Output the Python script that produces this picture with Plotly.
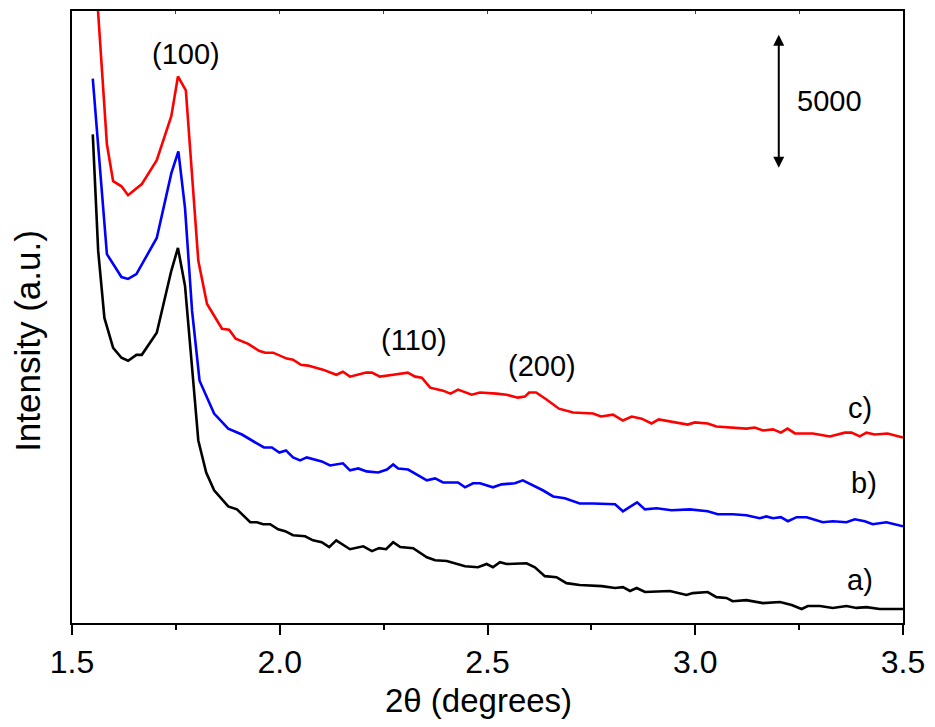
import plotly.graph_objects as go

# ---- data (2theta in degrees, intensity in counts) ----
a_x = [1.550,1.563,1.578,1.599,1.619,1.635,1.655,1.668,1.704,1.739,1.755,1.772,1.789,1.804,1.823,1.842,1.876,1.897,1.929,1.945,1.960,1.977,1.996,2.013,2.032,2.061,2.080,2.101,2.119,2.136,2.169,2.201,2.222,2.239,2.256,2.273,2.290,2.321,2.354,2.374,2.402,2.446,2.477,2.498,2.513,2.530,2.546,2.594,2.614,2.638,2.666,2.690,2.722,2.775,2.807,2.826,2.843,2.859,2.879,2.939,2.979,2.994,3.030,3.051,3.075,3.090,3.123,3.163,3.204,3.232,3.256,3.271,3.300,3.331,3.364,3.388,3.412,3.444,3.500]
a_y = [18150,13820,11330,10220,9850,9740,9960,9960,10780,13080,13930,12520,9480,6780,5590,4930,4330,4220,3740,3740,3670,3670,3480,3410,3260,3220,3070,3000,2820,3070,2740,2850,2670,2780,2740,3000,2820,2780,2440,2330,2300,2110,2070,2190,2070,2260,2190,2220,2070,1740,1700,1480,1410,1370,1300,1330,1190,1300,1150,1190,1040,1110,1150,960,930,810,850,740,780,670,520,630,630,560,630,560,590,520,520]

b_x = [1.550,1.584,1.619,1.635,1.655,1.704,1.739,1.756,1.772,1.789,1.807,1.842,1.876,1.909,1.945,1.962,1.981,1.999,2.015,2.032,2.049,2.065,2.101,2.121,2.152,2.169,2.189,2.209,2.237,2.258,2.273,2.285,2.309,2.326,2.354,2.374,2.393,2.429,2.446,2.465,2.482,2.513,2.534,2.566,2.585,2.633,2.658,2.686,2.722,2.754,2.807,2.826,2.860,2.879,2.907,2.943,2.987,3.030,3.054,3.090,3.123,3.155,3.171,3.187,3.206,3.223,3.244,3.268,3.307,3.331,3.364,3.384,3.408,3.427,3.460,3.500]
b_y = [20220,13700,12850,12780,12960,14300,16700,17520,15410,11590,9000,7780,7220,7000,6670,6520,6520,6330,6410,6150,6040,6150,6000,5850,5930,5670,5740,5630,5590,5700,5890,5740,5700,5560,5300,5370,5220,5220,5040,5190,5190,5040,5150,5190,5300,4930,4700,4630,4440,4440,4410,4150,4480,4220,4260,4190,4220,4150,4040,4040,4000,3890,3960,3890,3930,3780,3930,3930,3740,3780,3740,3850,3780,3670,3740,3590]

c_x = [1.550,1.563,1.584,1.599,1.619,1.635,1.668,1.704,1.739,1.755,1.774,1.804,1.825,1.861,1.878,1.894,1.924,1.950,1.965,1.984,2.001,2.017,2.032,2.051,2.068,2.104,2.136,2.152,2.169,2.208,2.222,2.241,2.273,2.308,2.326,2.342,2.362,2.378,2.393,2.411,2.429,2.462,2.482,2.522,2.546,2.573,2.590,2.600,2.617,2.642,2.672,2.706,2.754,2.773,2.802,2.826,2.847,2.871,2.895,2.912,2.951,2.982,2.999,3.030,3.051,3.090,3.123,3.143,3.163,3.187,3.206,3.222,3.240,3.283,3.324,3.360,3.376,3.396,3.412,3.432,3.463,3.500]
c_y = [25670,22740,17780,16410,16220,15890,16300,17190,18820,20300,19780,13450,11850,10930,10890,10560,10370,10110,10040,10040,9930,9820,9780,9590,9560,9410,9220,9330,9150,9300,9300,9150,9220,9300,9150,9110,8740,8670,8630,8520,8670,8480,8560,8520,8480,8370,8410,8560,8560,8300,7960,7820,7780,7670,7740,7520,7670,7590,7410,7560,7450,7370,7450,7410,7300,7260,7220,7260,7150,7190,7070,7220,7040,7040,6930,7070,7070,6930,7070,7000,7040,6890]

x_ticks = [1.5, 2.0, 2.5, 3.0, 3.5]
x_tick_text = ["1.5", "2.0", "2.5", "3.0", "3.5"]

peak_labels = ["(100)", "(110)", "(200)"]
peak_x = [1.774, 2.324, 2.631]
peak_y = [21150, 10520, 9540]

curve_labels = ["a)", "b)", "c)"]
curve_lab_x = [3.397, 3.407, 3.396]
curve_lab_y = [1590, 5190, 8000]

scale_bar = 5000
scale_x = 3.201
scale_top = 21850

FONT = "Liberation Sans, Arial, sans-serif"

fig = go.Figure()
for xs, ys, col in [(a_x, a_y, "#000000"), (b_x, b_y, "#0000FF"), (c_x, c_y, "#FF0000")]:
    fig.add_trace(go.Scatter(x=xs, y=ys, mode="lines",
                             line=dict(color=col, width=2.6), showlegend=False,
                             hoverinfo="skip"))
# invisible trace to anchor top axis
fig.add_trace(go.Scatter(x=[1.5, 3.5], y=[0, 0], xaxis="x2", mode="lines",
                         line=dict(width=0), showlegend=False, hoverinfo="skip"))

ann = []
for t, x, y in zip(peak_labels, peak_x, peak_y):
    ann.append(dict(text=t, x=x, y=y, xref="x", yref="y", showarrow=False,
                    font=dict(size=29, color="black", family=FONT)))
for t, x, y in zip(curve_labels, curve_lab_x, curve_lab_y):
    ann.append(dict(text=t, x=x, y=y, xref="x", yref="y", showarrow=False,
                    font=dict(size=29, color="black", family=FONT)))
# scale bar arrow
ann.append(dict(text="", x=scale_x, y=scale_top, ax=scale_x, ay=scale_top - scale_bar,
                xref="x", yref="y", axref="x", ayref="y", showarrow=True,
                arrowhead=2, startarrowhead=2, arrowside="end+start",
                arrowsize=1.1, startarrowsize=1.1, arrowwidth=2, arrowcolor="black",
                standoff=0, startstandoff=0))
ann.append(dict(text=str(scale_bar), x=3.324, y=scale_top - scale_bar / 2 + 20,
                xref="x", yref="y", showarrow=False,
                font=dict(size=29, color="black", family=FONT)))
# axis titles
ann.append(dict(text="2θ (degrees)", x=0.4895, y=0, xref="paper", yref="paper",
                yshift=-77, yanchor="middle", showarrow=False,
                font=dict(size=33, color="black", family=FONT)))
ann.append(dict(text="Intensity (a.u.)", x=0, y=0.461, xref="paper", yref="paper",
                xshift=-44, xanchor="center", textangle=-90, showarrow=False,
                font=dict(size=35, color="black", family=FONT)))

fig.update_layout(
    width=935, height=727,
    margin=dict(l=72, r=32, t=9, b=104),
    paper_bgcolor="white", plot_bgcolor="white",
    annotations=ann,
    xaxis=dict(range=[1.5, 3.5], tickvals=x_ticks, ticktext=x_tick_text,
               ticks="outside", ticklen=10, tickwidth=2, tickcolor="black",
               minor=dict(dtick=0.25, tick0=1.5, ticks="outside", ticklen=5,
                          tickwidth=2, tickcolor="black"),
               showline=True, linewidth=2, linecolor="black", mirror=True,
               showgrid=False, zeroline=False,
               tickfont=dict(size=32, color="black", family=FONT)),
    xaxis2=dict(range=[1.5, 3.5], overlaying="x", side="top", dtick=0.25, tick0=1.5,
                ticks="inside", ticklen=3, tickwidth=1, tickcolor="#444",
                showticklabels=False, showgrid=False, zeroline=False),
    yaxis=dict(range=[0, 22730], showticklabels=False, ticks="",
               showline=True, linewidth=2, linecolor="black", mirror=True,
               showgrid=False, zeroline=False),
)

fig.write_html("out.html", config={"displayModeBar": False},
               post_script="document.body.style.margin='0';document.body.style.overflow='hidden';")
